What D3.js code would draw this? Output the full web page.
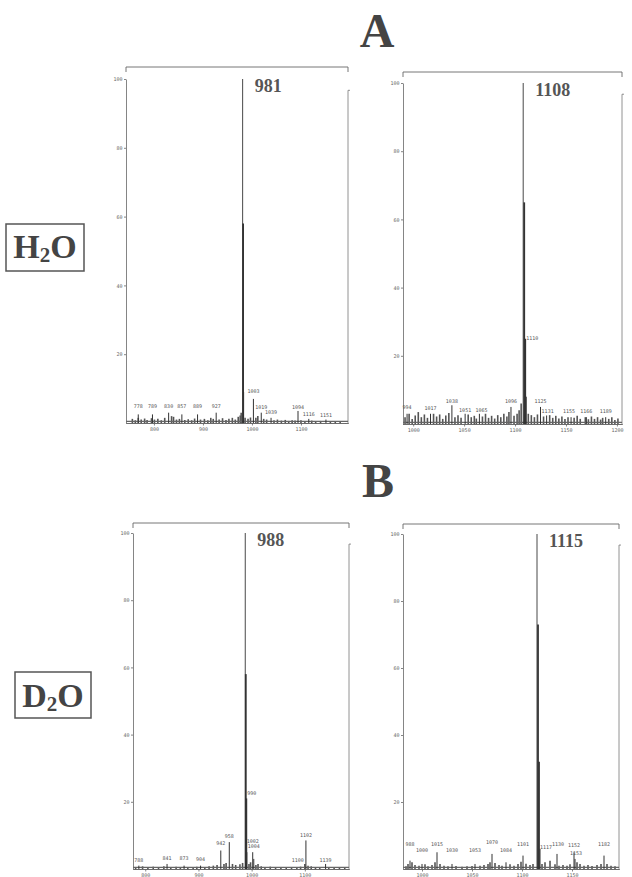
<!DOCTYPE html>
<html>
<head>
<meta charset="utf-8">
<script src="https://cdn.jsdelivr.net/npm/d3@7"></script>
<style>
  body { margin: 0; background: #fff; }
  svg { display: block; }
  .axis text { font-family: "DejaVu Sans Mono", monospace; font-size: 5px; fill: #666; }
  .axis path, .axis line { stroke: #666; stroke-width: 0.8; }
</style>
</head>
<body>
<svg id="chart" width="632" height="877"></svg>
<script>
// ── Data (m/z, relative intensity %) ───────────────────────
var yTicks = [20, 40, 60, 80, 100];

// H2O, left spectrum
var h2oLeftDomain = [743, 1196];
var h2oLeftTicks = [800, 900, 1000, 1100];
var h2oLeftMain = [981, "981"];
var h2oLeftPeaks = [[981, 100], [982, 58], [983, 9], [768, 2.5], [797, 2.5], [830, 3], [857, 2.5],
  [889, 2.5], [927, 3], [1003, 7], [1019, 3], [1039, 1.5], [1094, 3.5], [1116, 1.2], [1151, 1]];
var h2oLeftNoise = [[756, 1.2], [762, 0.8], [768, 1.5], [774, 1], [781, 1.3], [786, 0.9], [795, 1.4],
  [801, 1], [808, 1.2], [815, 0.8], [822, 1.5], [836, 2], [840, 1.8], [846, 1], [852, 1.2], [863, 0.9],
  [870, 1.1], [877, 0.8], [883, 1.3], [895, 1], [903, 1.2], [910, 0.8], [916, 1.5], [921, 1.2],
  [933, 1], [940, 1.4], [947, 0.9], [953, 1.2], [960, 1.5], [966, 1], [972, 1.8], [976, 2.2],
  [978, 3], [986, 1.5], [992, 1.2], [997, 1.6], [1008, 1.5], [1012, 2], [1024, 1.2], [1030, 1],
  [1045, 0.8], [1052, 1], [1060, 0.7], [1068, 0.9], [1075, 0.6], [1082, 0.8], [1088, 0.7],
  [1100, 0.8], [1108, 0.6], [1122, 0.7], [1130, 0.5], [1140, 0.6], [1160, 0.5], [1170, 0.4], [1180, 0.5]];
var h2oLeftLabels = [[768, 4.4, "778"], [797, 4.4, "789"], [830, 4.4, "830"], [857, 4.4, "857"],
  [889, 4.4, "889"], [927, 4.4, "927"], [1003, 8.7, "1003"], [1019, 4, "1019"], [1039, 2.6, "1039"],
  [1094, 4, "1094"], [1116, 2, "1116"], [1151, 1.7, "1151"]];

// H2O, right spectrum
var h2oRightDomain = [990, 1205];
var h2oRightTicks = [1000, 1050, 1100, 1150, 1200];
var h2oRightMain = [1108, "1108"];
var h2oRightPeaks = [[1108, 100], [1109, 65], [1110, 25], [1111, 8], [994, 3], [1017, 3], [1038, 5.5],
  [1051, 3], [1065, 3], [1096, 5], [1125, 5], [1131, 2.5], [1155, 2], [1170, 2], [1189, 2]];
var h2oRightNoise = [[992, 2], [996, 3], [999, 1.5], [1002, 2.5], [1005, 3.5], [1008, 2], [1011, 2.8],
  [1014, 1.8], [1020, 3], [1023, 2.2], [1026, 2.8], [1029, 1.5], [1032, 2.5], [1035, 3.2], [1041, 2],
  [1044, 2.6], [1047, 1.8], [1054, 2.8], [1057, 2], [1060, 2.4], [1062, 1.6], [1068, 2.2], [1071, 3],
  [1074, 1.8], [1077, 2.4], [1080, 1.6], [1083, 2.6], [1086, 2], [1089, 3], [1092, 2.2], [1094, 3.5],
  [1099, 2.4], [1102, 3], [1104, 4], [1106, 6], [1113, 3], [1116, 2.6], [1119, 2], [1122, 2.8],
  [1128, 2.2], [1134, 2.6], [1137, 1.8], [1140, 2.4], [1143, 1.6], [1146, 2.2], [1149, 1.5], [1152, 2],
  [1158, 1.8], [1161, 2.4], [1164, 1.5], [1169, 2], [1172, 1.4], [1175, 2.2], [1178, 1.5], [1181, 2],
  [1184, 1.3], [1186, 1.8], [1192, 1.5], [1195, 2], [1198, 1.2], [1201, 1.6]];
var h2oRightLabels = [[994, 4.4, "994"], [1017, 4, "1017"], [1038, 6.2, "1038"], [1051, 3.5, "1051"],
  [1067, 3.5, "1065"], [1096, 6.2, "1096"], [1110, 24.5, "1110", "start"], [1125, 6.2, "1125"],
  [1132, 3.2, "1131"], [1153, 3.2, "1155"], [1170, 3.2, "1166"], [1189, 3.2, "1189"]];

// D2O, left spectrum
var d2oLeftDomain = [777, 1183];
var d2oLeftTicks = [800, 900, 1000, 1100];
var d2oLeftMain = [988, "988"];
var d2oLeftPeaks = [[988, 100], [989, 58], [990, 21], [991, 5], [788, 1], [841, 1.5], [873, 1],
  [904, 1], [942, 5.5], [958, 8], [1002, 5], [1004, 3], [1102, 8.5], [1139, 1.5]];
var d2oLeftNoise = [[782, 0.6], [795, 0.8], [805, 0.5], [815, 0.7], [825, 0.6], [835, 0.8], [848, 0.6],
  [858, 0.7], [866, 0.5], [880, 0.6], [890, 0.5], [897, 0.7], [912, 0.6], [920, 0.8], [928, 1],
  [935, 1.2], [948, 1.5], [952, 1.8], [964, 1.5], [970, 1.2], [978, 1.4], [983, 1.8], [995, 1.5],
  [998, 2], [1008, 1.2], [1012, 1.5], [1018, 0.8], [1025, 0.6], [1035, 0.7], [1045, 0.5], [1055, 0.6],
  [1065, 0.5], [1075, 0.6], [1085, 0.5], [1092, 0.7], [1100, 1.5], [1106, 1], [1112, 0.8], [1120, 0.6],
  [1128, 0.5], [1145, 0.6], [1155, 0.5], [1165, 0.6], [1175, 0.5]];
var d2oLeftLabels = [[788, 2, "788"], [841, 2.7, "841"], [873, 2.7, "873"], [904, 2.4, "904"],
  [942, 7, "942"], [958, 9.2, "958"], [990, 22, "990", "start"], [1002, 7.7, "1002"],
  [1004, 6.2, "1004"], [1100, 2, "1100", "end"], [1102, 9.5, "1102"], [1139, 2, "1139"]];

// D2O, right spectrum
var d2oRightDomain = [981, 1197];
var d2oRightTicks = [1000, 1050, 1100, 1150];
var d2oRightMain = [1115, "1115"];
var d2oRightPeaks = [[1115, 100], [1116, 73], [1117, 32], [1118, 6], [988, 2.5], [1000, 1.5],
  [1015, 5], [1030, 1.5], [1053, 1.5], [1070, 4.5], [1084, 2], [1101, 4], [1135, 4.5], [1152, 5],
  [1153, 3], [1182, 4]];
var d2oRightNoise = [[984, 0.8], [986, 1.5], [990, 2], [993, 1.2], [997, 1], [1003, 1.4], [1006, 0.8],
  [1010, 1.2], [1013, 2], [1018, 1.5], [1022, 1], [1026, 0.8], [1034, 0.9], [1040, 0.7], [1045, 0.8],
  [1050, 0.9], [1058, 1], [1062, 1.2], [1066, 1.5], [1068, 2], [1073, 1.8], [1077, 1.2], [1080, 1],
  [1088, 1.4], [1092, 1], [1096, 1.5], [1099, 2.2], [1104, 1.6], [1108, 1.2], [1111, 1.5], [1120, 1.5],
  [1123, 2], [1128, 2.5], [1133, 1.4], [1137, 1], [1141, 1.2], [1145, 1], [1148, 1.4], [1155, 2],
  [1158, 1.5], [1162, 1], [1166, 1.2], [1170, 0.9], [1175, 1.2], [1179, 1.5], [1185, 1.5], [1189, 1],
  [1193, 0.8]];
var d2oRightLabels = [[988, 6.9, "988"], [1000, 5, "1000"], [1015, 7, "1015"], [1030, 5, "1030"],
  [1053, 5, "1053"], [1070, 7.5, "1070"], [1084, 5, "1084"], [1101, 7, "1101"],
  [1117, 6, "1117", "start"], [1136, 7, "1130"], [1152, 6.5, "1152"], [1154, 4.2, "1153"],
  [1182, 7, "1182"]];

// ── Layout ─────────────────────────────────────────────────
var panels = [
  { domain: h2oLeftDomain, ticks: h2oLeftTicks, main: h2oLeftMain, peaks: h2oLeftPeaks, noise: h2oLeftNoise,
    labels: h2oLeftLabels, x0: 126, x1: 348, top: 67, y100: 79, y0: 423 },
  { domain: h2oRightDomain, ticks: h2oRightTicks, main: h2oRightMain, peaks: h2oRightPeaks, noise: h2oRightNoise,
    labels: h2oRightLabels, x0: 403, x1: 622, top: 72, y100: 83, y0: 424 },
  { domain: d2oLeftDomain, ticks: d2oLeftTicks, main: d2oLeftMain, peaks: d2oLeftPeaks, noise: d2oLeftNoise,
    labels: d2oLeftLabels, x0: 133, x1: 349, top: 523, y100: 533, y0: 869 },
  { domain: d2oRightDomain, ticks: d2oRightTicks, main: d2oRightMain, peaks: d2oRightPeaks, noise: d2oRightNoise,
    labels: d2oRightLabels, x0: 403, x1: 619, top: 524, y100: 534, y0: 869 }
];

var svg = d3.select("#chart");
var ink = "#444";

panels.forEach(function (p) {
  var x = d3.scaleLinear().domain(p.domain).range([p.x0, p.x1]);
  var y = d3.scaleLinear().domain([0, 100]).range([p.y0, p.y100]);
  var g = svg.append("g");

  // top bracket and right frame
  g.append("path")
    .attr("d", "M" + p.x0 + "," + (p.top + 5) + "V" + p.top + "H" + p.x1 + "V" + (p.top + 5))
    .attr("fill", "none").attr("stroke", "#666").attr("stroke-width", 0.9);
  g.append("path")
    .attr("d", "M" + (p.x1 + 2) + "," + (y(97) + 1) + "H" + p.x1 + "V" + p.y0)
    .attr("fill", "none").attr("stroke", "#777").attr("stroke-width", 0.8);

  // axes
  var minor = d3.range(Math.ceil(p.domain[0] / 10) * 10, p.domain[1], 10);
  g.append("g").attr("class", "axis")
    .attr("transform", "translate(0," + p.y0 + ")")
    .call(d3.axisBottom(x).tickValues(minor).tickSize(1).tickFormat(""));
  g.append("g").attr("class", "axis")
    .attr("transform", "translate(0," + p.y0 + ")")
    .call(d3.axisBottom(x).tickValues(p.ticks).tickSize(2.5).tickSizeOuter(0).tickPadding(2)
      .tickFormat(d3.format("d")));
  g.append("g").attr("class", "axis")
    .attr("transform", "translate(" + p.x0 + ",0)")
    .call(d3.axisLeft(y).tickValues(yTicks).tickSize(2).tickSizeOuter(0).tickPadding(1.5));

  // baseline noise
  g.selectAll(".noise").data(p.noise).join("line")
    .attr("x1", function (d) { return x(d[0]); }).attr("x2", function (d) { return x(d[0]); })
    .attr("y1", y(0)).attr("y2", function (d) { return y(d[1]); })
    .attr("stroke", "#555").attr("stroke-width", 1.6);
  g.append("line")
    .attr("x1", p.x0).attr("x2", p.x1).attr("y1", y(0.5)).attr("y2", y(0.5))
    .attr("stroke", "#666").attr("stroke-width", 1.2);

  // peaks
  g.selectAll(".peak").data(p.peaks).join("line")
    .attr("x1", function (d) { return x(d[0]); }).attr("x2", function (d) { return x(d[0]); })
    .attr("y1", y(0)).attr("y2", function (d) { return y(d[1]); })
    .attr("stroke", "#333")
    .attr("stroke-width", function (d) { return d[1] >= 100 ? 0.9 : (d[1] > 15 ? 1.8 : 1); });

  // peak labels
  g.selectAll(".plabel").data(p.labels).join("text")
    .attr("x", function (d) { return x(d[0]) + (d[3] === "start" ? 1 : d[3] === "end" ? -1 : 0); })
    .attr("y", function (d) { return y(d[1]); })
    .attr("text-anchor", function (d) { return d[3] || "middle"; })
    .attr("font-family", "DejaVu Sans Mono, monospace")
    .attr("font-size", 5).attr("fill", "#555")
    .text(function (d) { return d[2]; });

  // base peak label
  g.append("text")
    .attr("x", x(p.main[0]) + 12).attr("y", p.y100 + 13)
    .attr("font-family", "Liberation Serif, serif").attr("font-weight", "bold")
    .attr("font-size", 18).attr("fill", "#555")
    .text(p.main[1]);
});

// ── Section letters and solvent boxes ──────────────────────
[["A", 377, 47], ["B", 378, 497]].forEach(function (d) {
  svg.append("text").attr("x", d[1]).attr("y", d[2]).attr("text-anchor", "middle")
    .attr("font-family", "Liberation Serif, serif").attr("font-weight", "bold")
    .attr("font-size", 48).attr("fill", ink).text(d[0]);
});

[["H", "O", 6, 224, 78, 47, 258], ["D", "O", 15, 672, 76, 46, 707]].forEach(function (d) {
  svg.append("rect").attr("x", d[2]).attr("y", d[3]).attr("width", d[4]).attr("height", d[5])
    .attr("fill", "none").attr("stroke", "#555").attr("stroke-width", 1.5);
  var t = svg.append("text").attr("x", d[2] + d[4] / 2).attr("y", d[6]).attr("text-anchor", "middle")
    .attr("font-family", "Liberation Serif, serif").attr("font-weight", "bold")
    .attr("font-size", 34).attr("fill", ink);
  t.append("tspan").text(d[0]);
  t.append("tspan").attr("font-size", 21).attr("dy", 4).text("2");
  t.append("tspan").attr("dy", -4).text(d[1]);
});
</script>
</body>
</html>
